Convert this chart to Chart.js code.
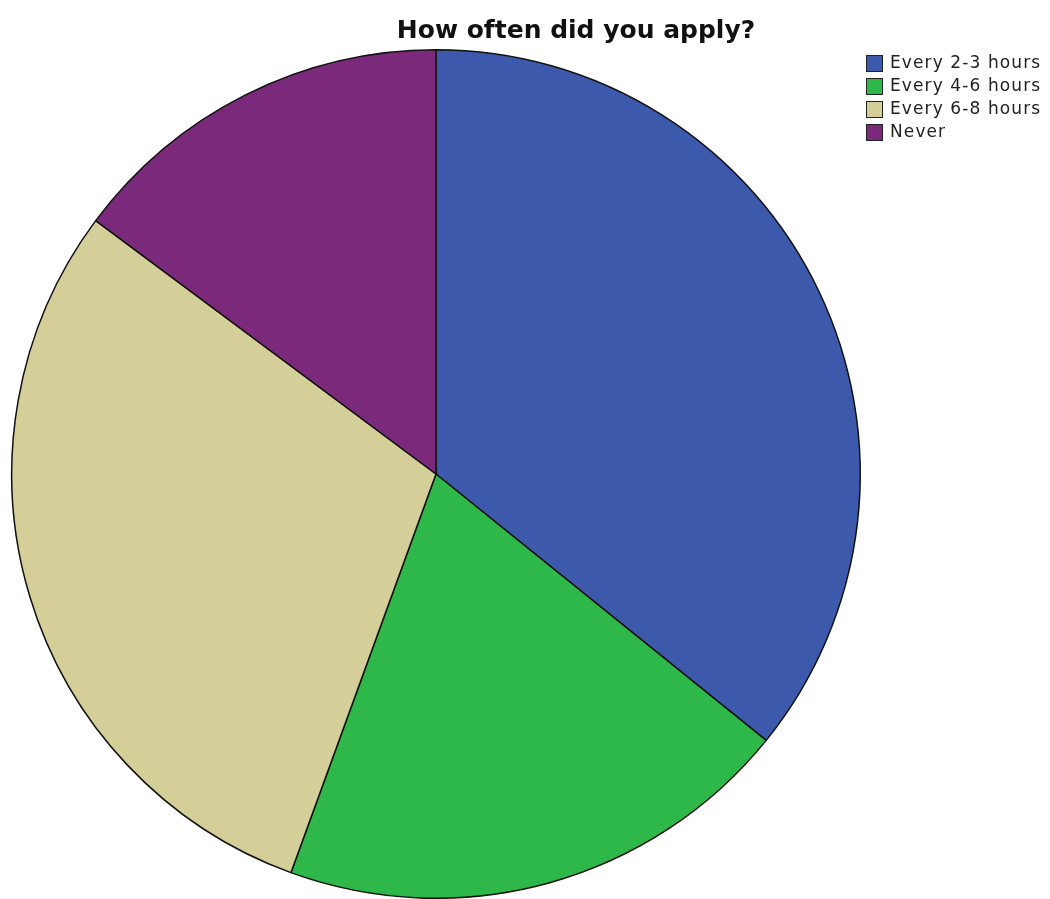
<!DOCTYPE html>
<html>
<head>
<meta charset="utf-8">
<title>How often did you apply?</title>
<script src="https://cdn.jsdelivr.net/npm/chart.js@4.4.1/dist/chart.umd.min.js"></script>
<style>
    html, body { margin: 0; padding: 0; background: #ffffff; }
    #wrap { width: 1050px; height: 899px; }
</style>
</head>
<body>
<div id="wrap"><canvas id="pieChart" width="1050" height="899"></canvas></div>
<script>
// Data (counts, 81 answers)
const chartTitle = 'How often did you apply?';
const categories = ['Every 2-3 hours', 'Every 4-6 hours', 'Every 6-8 hours', 'Never'];
const counts = [29, 16, 24, 12];
const sliceColors = ['#3d59ab', '#2eb84a', '#d4cf98', '#7b297b'];

// Title and legend drawn by hand so they sit where the reference has them
const titleAndLegend = {
    id: 'titleAndLegend',
    afterDraw(chart) {
        const ctx = chart.ctx;
        ctx.save();
        ctx.fillStyle = '#111111';
        ctx.font = 'bold 25px "DejaVu Sans", sans-serif';
        ctx.textAlign = 'center';
        ctx.textBaseline = 'alphabetic';
        ctx.fillText(chartTitle, 576, 38);

        const ds = chart.data.datasets[0];
        ctx.font = '17px "DejaVu Sans", sans-serif';
        ctx.letterSpacing = '1.1px';
        ctx.textAlign = 'left';
        ctx.textBaseline = 'middle';
        chart.data.labels.forEach((label, i) => {
            const y = 55 + i * 23;
            ctx.fillStyle = ds.backgroundColor[i];
            ctx.fillRect(866, y, 17, 17);
            ctx.strokeStyle = '#222222';
            ctx.lineWidth = 1;
            ctx.strokeRect(866.5, y + 0.5, 16, 16);
            ctx.fillStyle = '#222222';
            ctx.fillText(label, 890, y + 9);
        });
        ctx.restore();
    }
};

document.addEventListener('DOMContentLoaded', function () {
    const ctx = document.getElementById('pieChart').getContext('2d');
    new Chart(ctx, {
        type: 'pie',
        data: {
            labels: categories,
            datasets: [{
                data: counts,
                backgroundColor: sliceColors,
                borderColor: '#111111',
                borderWidth: 1.5
            }]
        },
        options: {
            responsive: false,
            animation: false,
            layout: { padding: { top: 49, left: 11, right: 189, bottom: 0 } },
            plugins: {
                legend: { display: false },
                title: { display: false },
                tooltip: { enabled: false }
            }
        },
        plugins: [titleAndLegend]
    });
});
</script>
</body>
</html>
